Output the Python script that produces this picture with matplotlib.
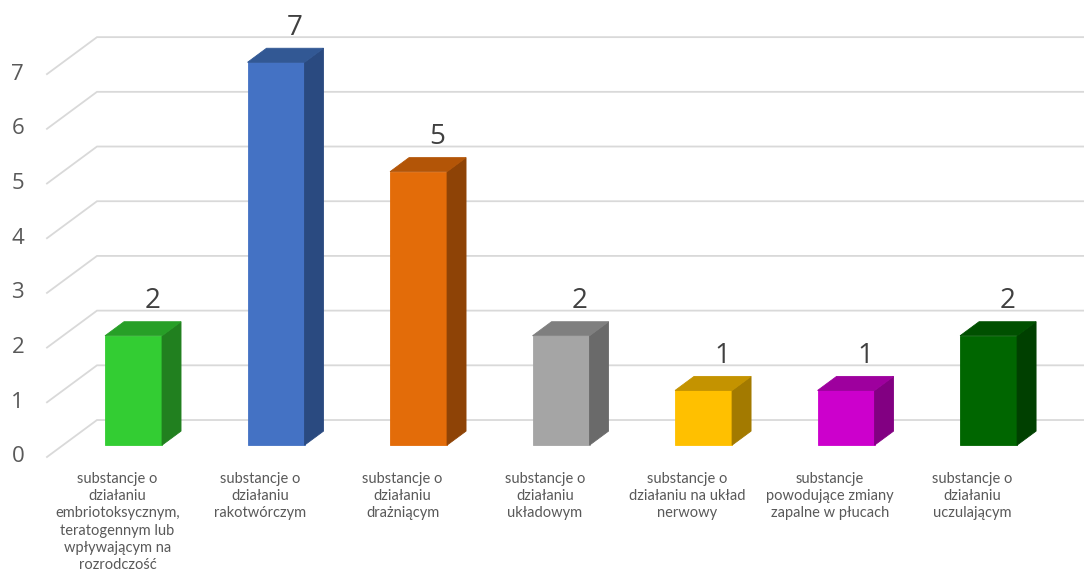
import matplotlib
matplotlib.use("Agg")
import matplotlib.pyplot as plt
from matplotlib.patches import Polygon

# ---- data ----
categories = [
    "substancje o\ndziałaniu\nembriotoksycznym,\nteratogennym lub\nwpływającym na\nrozrodczość",
    "substancje o\ndziałaniu\nrakotwórczym",
    "substancje o\ndziałaniu\ndrażniącym",
    "substancje o\ndziałaniu\nukładowym",
    "substancje o\ndziałaniu na układ\nnerwowy",
    "substancje\npowodujące zmiany\nzapalne w płucach",
    "substancje o\ndziałaniu\nuczulającym",
]
values = [2, 7, 5, 2, 1, 1, 2]
y_ticks = [0, 1, 2, 3, 4, 5, 6, 7]
front_colors = ["#33CD33", "#4472C4", "#E36C09", "#A5A5A5", "#FFC000", "#CC00CC", "#006600"]
top_colors = ["#279F27", "#325894", "#B35507", "#7F7F7F", "#C49300", "#9E009E", "#005000"]
side_colors = ["#21801F", "#2A4A80", "#8E4306", "#6A6A6A", "#A37A00", "#820082", "#004000"]

# ---- oblique projection parameters (data units) ----
DX, DY = 0.351, 0.676      # full wall depth offset
BAR_W = 0.40
D0, D1 = 0.32, 0.70        # bar depth range
WALL_L, WALL_R = -0.495, 6.6


def proj(c, v, d):
    return (c + DX * d, v + DY * d)


fig = plt.figure(figsize=(10.84, 5.80), dpi=100)
ax = fig.add_axes([0, 0, 1, 1])
ax.set_xlim(-0.8246, 6.782)
ax.set_ylim(-2.249, 8.355)
ax.axis("off")

grid_c = "#D9D9D9"
for v in y_ticks:
    p0 = proj(WALL_L, v, 0)
    p1 = proj(WALL_L, v, 1)
    p2 = proj(WALL_R, v, 1)
    ax.plot([p0[0], p1[0], p2[0]], [p0[1], p1[1], p2[1]], color=grid_c, lw=1.3,
            solid_joinstyle="miter", zorder=1)
    ax.text(p0[0] - 0.16, p0[1], str(v), ha="right", va="center",
            fontsize=16, color="#595959", family="Open Sans")

for i, (v, fc, tc, sc) in enumerate(zip(values, front_colors, top_colors, side_colors)):
    cl, cr = i - BAR_W / 2, i + BAR_W / 2
    front = [proj(cl, 0, D0), proj(cr, 0, D0), proj(cr, v, D0), proj(cl, v, D0)]
    side = [proj(cr, 0, D0), proj(cr, 0, D1), proj(cr, v, D1), proj(cr, v, D0)]
    top = [proj(cl, v, D0), proj(cr, v, D0), proj(cr, v, D1), proj(cl, v, D1)]
    for pts, col in ((front, fc), (side, sc), (top, tc)):
        ax.add_patch(Polygon(pts, closed=True, facecolor=col, edgecolor=col,
                             lw=0.6, zorder=3))
    lx, ly = proj(i, v, D1)
    ax.text(lx, ly + 0.25, str(v), ha="center", va="baseline", fontsize=20,
            color="#404040", family="Open Sans", zorder=4)
    tx, ty = proj(i, 0, 0)
    ax.text(tx, -0.27, categories[i], ha="center", va="top", fontsize=10.5,
            color="#595959", family="Lato", linespacing=1.3)

fig.savefig("out.png", dpi=100, facecolor="white")
